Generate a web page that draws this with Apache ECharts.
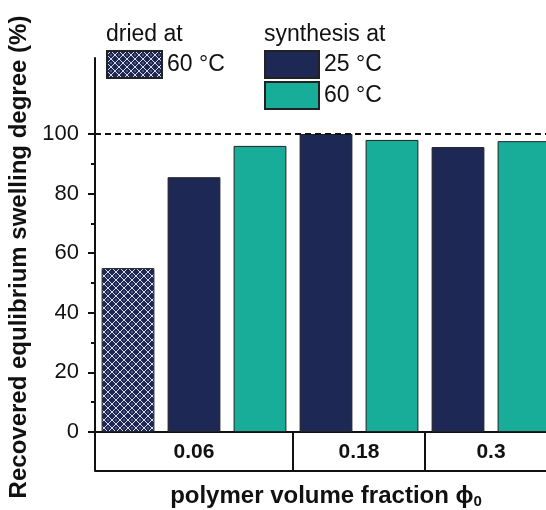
<!DOCTYPE html>
<html>
<head>
<meta charset="utf-8">
<script src="https://cdn.jsdelivr.net/npm/echarts@6/dist/echarts.min.js"></script>
<style>
  html, body { margin: 0; padding: 0; background: #fff; }
  #main { width: 546px; height: 510px; }
</style>
</head>
<body>
<div id="main"></div>
<script>
// 7 bar slots: 0.06 group has 3 bars, 0.18 and 0.3 have 2
var slots = ['a', 'b', 'c', 'd', 'e', 'f', 'g'];
var dried60 = [55, '-', '-', '-', '-', '-', '-'];
var syn25 = ['-', 85.5, '-', 100, '-', 95.6, '-'];
var syn60 = ['-', '-', 96, '-', 98, '-', 97.6];
var groupLabels = ['0.06', '0.18', '0.3'];
var groupCenters = [1.5, 4, 6];
var groupEdges = [0, 3, 5, 7];
var yLabels = [0, 20, 40, 60, 80, 100];
var yMinor = [10, 30, 50, 70, 90];

var font = 'Liberation Sans, Arial, sans-serif';
var navy = '#1e2855';
var teal = '#17ad98';

// hatch pattern for the dried sample
var cv = document.createElement('canvas');
cv.width = 8; cv.height = 8;
var ctx = cv.getContext('2d');
ctx.fillStyle = navy;
ctx.fillRect(0, 0, 8, 8);
ctx.strokeStyle = 'rgba(235,238,248,0.9)';
ctx.lineWidth = 1;
ctx.beginPath();
ctx.moveTo(0, 4); ctx.lineTo(4, 0); ctx.lineTo(8, 4); ctx.lineTo(4, 8); ctx.closePath();
ctx.stroke();
ctx.fillStyle = 'rgba(235,238,248,0.9)';
ctx.fillRect(3.5, 3.5, 1, 1);

var myChart = echarts.init(document.getElementById('main'));
var option = {
	animation: false,
	textStyle: { fontFamily: font },
	// plot runs past the right edge of the picture
	grid: { left: 95, top: 58, width: 462, bottom: 78, outerBoundsMode: 'none' },
	legend: [
		{
			data: ['dried60'], left: 101, top: 45, icon: 'rect',
			itemWidth: 55, itemHeight: 27, itemGap: 2,
			textStyle: { fontSize: 23, color: '#111', fontFamily: font },
			formatter: function () { return '60 °C'; }
		},
		{
			data: ['syn25', 'syn60'], left: 259, top: 45, orient: 'vertical', icon: 'rect',
			itemWidth: 54, itemHeight: 27, itemGap: 2,
			textStyle: { fontSize: 23, color: '#111', fontFamily: font },
			formatter: function (n) { return n === 'syn25' ? '25 °C' : '60 °C'; }
		}
	],
	graphic: [
		{ type: 'text', left: 106, top: 23, style: { text: 'dried at', fontSize: 23, fill: '#111', fontFamily: font } },
		{ type: 'text', left: 264, top: 23, style: { text: 'synthesis at', fontSize: 23, fill: '#111', fontFamily: font } }
	],
	xAxis: [
		{
			type: 'category', data: slots, show: false
		},
		{
			type: 'value', min: 0, max: 7, position: 'bottom',
			axisLine: { show: true, lineStyle: { color: '#111', width: 2 } },
			axisTick: { show: true, customValues: groupEdges, length: 39, lineStyle: { color: '#111', width: 2 } },
			axisLabel: {
				customValues: groupCenters, margin: 10, fontSize: 21, fontWeight: 'bold', color: '#111',
				formatter: function (v) { return groupLabels[groupCenters.indexOf(v)]; }
			},
			splitLine: { show: false }
		},
		{
			type: 'value', min: 0, max: 7, position: 'bottom', offset: 39,
			axisLine: { show: true, lineStyle: { color: '#111', width: 2 } },
			axisTick: { show: false }, axisLabel: { show: false }, splitLine: { show: false },
			name: 'polymer volume fraction ϕ{sub|0}', nameLocation: 'middle', nameGap: 12,
			nameTextStyle: {
				fontSize: 24, fontWeight: 'bold', color: '#111',
				rich: { sub: { fontSize: 15, fontWeight: 'bold', verticalAlign: 'bottom', padding: [11, 0, 0, 0] } }
			}
		}
	],
	yAxis: [
		{
			type: 'value', min: 0, max: 125.5,
			axisLine: { show: true, lineStyle: { color: '#111', width: 2 } },
			axisTick: { show: true, customValues: yLabels, length: 7, lineStyle: { color: '#111', width: 2 } },
			axisLabel: { customValues: yLabels, margin: 16, fontSize: 22, color: '#111' },
			splitLine: { show: false },
			name: 'Recovered equlibrium swelling degree (%)', nameLocation: 'middle', nameGap: 54,
			nameTextStyle: { fontSize: 24, fontWeight: 'bold', color: '#111', padding: [0, 24, 0, 0] }
		},
		{
			type: 'value', min: 0, max: 125.5, position: 'left',
			axisLine: { show: false },
			axisTick: { show: true, customValues: yMinor, length: 4, lineStyle: { color: '#111', width: 2 } },
			axisLabel: { show: false }, splitLine: { show: false }
		}
	],
	series: [
		{
			name: 'dried60', type: 'bar', stack: 'g', data: dried60, barWidth: '80%',
			itemStyle: { color: { image: cv, repeat: 'repeat' }, borderColor: '#222', borderWidth: 1 },
			markLine: {
				silent: true, symbol: 'none', label: { show: false },
				lineStyle: { color: '#111', type: [6, 4], width: 2 },
				data: [{ yAxis: 100 }]
			}
		},
		{
			name: 'syn25', type: 'bar', stack: 'g', data: syn25, barWidth: '80%',
			itemStyle: { color: navy, borderColor: '#222', borderWidth: 1 }
		},
		{
			name: 'syn60', type: 'bar', stack: 'g', data: syn60, barWidth: '80%',
			itemStyle: { color: teal, borderColor: '#222', borderWidth: 1 }
		}
	]
};
myChart.setOption(option);
</script>
</body>
</html>
